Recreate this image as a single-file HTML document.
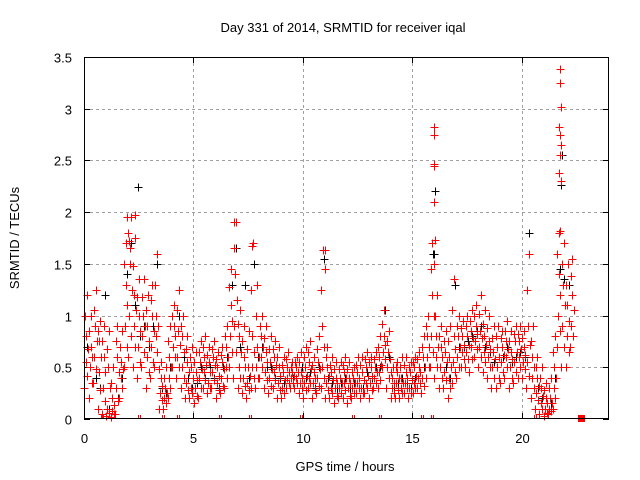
<!DOCTYPE html>
<html><head><meta charset="utf-8"><style>
body{margin:0;background:#fff}
svg{display:block;font-family:"Liberation Sans",sans-serif}
</style></head><body>
<svg id="chart" width="640" height="480" viewBox="0 0 640 480">
<text x="343" y="32" font-size="13" text-anchor="middle">Day 331 of 2014, SRMTID for receiver iqal</text>
<text transform="translate(19,238) rotate(-90)" font-size="13" text-anchor="middle">SRMTID / TECUs</text>
<text x="345" y="471" font-size="13" text-anchor="middle">GPS time / hours</text>
<g id="grid"></g><g id="axes"></g><g id="black"></g><g id="red"></g>
<rect x="84.5" y="57.5" width="524" height="361" fill="none" stroke="#000" stroke-width="1"/>
</svg>
<script>
const times=[0.1,0.3,0.5,0.7,0.9,1.1,1.3,1.5,1.7,1.9,2.1,2.3,2.5,2.7,2.9,3.1,3.3,3.5,3.7,3.9,4.1,4.3,4.5,4.7,4.9,5.1,5.3,5.5,5.7,5.9,6.1,6.3,6.5,6.7,6.9,7.1,7.3,7.5,7.7,7.9,8.1,8.3,8.5,8.7,8.9,9.1,9.3,9.5,9.7,9.9,10.1,10.3,10.5,10.7,10.9,11.1,11.3,11.5,11.7,11.9,12.1,12.3,12.5,12.7,12.9,13.1,13.3,13.5,13.7,13.9,14.1,14.3,14.5,14.7,14.9,15.1,15.3,15.5,15.7,15.9,16.1,16.3,16.5,16.7,16.9,17.1,17.3,17.5,17.7,17.9,18.1,18.3,18.5,18.7,18.9,19.1,19.3,19.5,19.7,19.9,20.1,20.3,20.5,20.7,20.9,21.1,21.3,21.5,21.7,21.9,22.1,22.3];
const redLow=[.3,.2,.35,.1,.05,.03,.02,.05,.2,.5,.6,.5,.4,.5,.3,.4,.5,.1,.1,.2,.5,.4,.3,.2,.2,.15,.2,.3,.25,.3,.2,.25,.3,.5,.4,.3,.25,.2,.3,.3,.4,.3,.25,.3,.2,.2,.3,.3,.3,.25,.2,.3,.2,.25,.3,.2,.2,.15,.2,.2,.15,.2,.25,.2,.25,.2,.3,.3,.5,.3,.2,.2,.2,.25,.2,.25,.3,.25,.4,.5,.4,.3,.3,.2,.35,.4,.5,.5,.45,.6,.5,.45,.4,.3,.3,.35,.4,.3,.35,.4,.4,.3,.2,.1,.05,.03,.05,.1,.7,.5,.5,.7];
const redQ1=[.42,.35,.48,.28,.17,.06,.05,.17,.3,.7,.8,.7,.55,.65,.45,.55,.65,.18,.15,.3,.6,.5,.4,.28,.25,.22,.3,.38,.3,.38,.28,.32,.4,.65,.65,.4,.32,.28,.4,.4,.5,.38,.32,.38,.28,.25,.35,.35,.35,.3,.28,.35,.28,.32,.4,.28,.25,.22,.25,.28,.22,.25,.3,.25,.3,.28,.35,.38,.58,.4,.25,.28,.25,.3,.25,.3,.35,.32,.5,.65,.5,.4,.38,.3,.45,.5,.58,.58,.58,.68,.6,.55,.5,.4,.4,.45,.5,.4,.45,.5,.48,.42,.3,.18,.1,.06,.08,.2,.85,.7,.65,.8];
const redMid1=[.55,.5,.6,.45,.3,.1,.08,.3,.4,.9,1.0,.9,.7,.8,.6,.7,.8,.25,.2,.4,.7,.6,.5,.35,.3,.3,.4,.45,.35,.45,.35,.4,.5,.8,.9,.5,.4,.35,.5,.5,.6,.45,.4,.45,.35,.3,.4,.4,.4,.35,.35,.4,.35,.4,.5,.35,.3,.3,.3,.35,.3,.3,.35,.3,.35,.35,.4,.45,.65,.5,.3,.35,.3,.35,.3,.35,.4,.4,.6,.8,.6,.5,.45,.4,.55,.6,.65,.65,.7,.75,.7,.65,.6,.5,.5,.55,.6,.5,.55,.6,.55,.55,.4,.25,.15,.1,.1,.3,1.0,.9,.8,.9];
const redQ2=[.68,.6,.75,.6,.45,.3,.14,.45,.48,1.1,1.25,1.05,.85,.9,.75,.85,.9,.32,.25,.5,.8,.72,.65,.45,.4,.38,.48,.52,.45,.52,.42,.48,.6,.95,1.15,.65,.5,.42,.65,.6,.7,.55,.48,.52,.42,.38,.45,.42,.45,.4,.42,.48,.4,.48,.7,.42,.38,.35,.35,.4,.35,.35,.4,.38,.42,.42,.45,.52,.72,.58,.35,.4,.35,.4,.38,.42,.45,.5,.7,1.0,.7,.6,.55,.5,.68,.7,.72,.72,.78,.82,.78,.72,.68,.58,.6,.62,.68,.58,.65,.68,.62,.72,.5,.32,.22,.15,.15,.4,1.2,1.1,.95,1.05];
const redMid2=[.8,.7,.9,.75,.6,.5,.2,.6,.55,1.3,1.5,1.2,1.0,1.0,.9,1.0,1.0,.4,.3,.6,.9,.85,.8,.55,.5,.45,.55,.6,.55,.6,.5,.55,.7,1.1,1.4,.8,.6,.5,.8,.7,.8,.65,.55,.6,.5,.45,.5,.45,.5,.45,.5,.55,.45,.55,.9,.5,.45,.4,.4,.45,.4,.4,.45,.45,.5,.5,.5,.6,.8,.65,.4,.45,.4,.45,.45,.5,.5,.6,.8,1.2,.8,.7,.65,.6,.8,.8,.8,.8,.85,.9,.85,.8,.75,.65,.7,.7,.75,.65,.75,.75,.7,.9,.6,.4,.3,.2,.2,.5,1.4,1.3,1.1,1.2];
const redQ3=[1.0,.85,1.05,.85,.75,.68,.35,.75,.7,1.5,1.72,1.48,1.18,1.18,1.05,1.15,1.3,.48,.4,.75,1.0,1.05,.9,.68,.6,.55,.65,.7,.62,.68,.58,.62,.8,1.28,1.65,.92,.75,.68,1.25,1.0,.9,.78,.68,.68,.6,.52,.58,.5,.55,.55,.6,.65,.52,.68,1.25,.6,.52,.48,.48,.52,.48,.45,.52,.52,.58,.55,.58,.7,.92,.75,.45,.5,.5,.52,.5,.55,.58,.7,.9,1.45,1.0,.8,.75,.75,1.05,.9,.88,.9,.95,1.0,1.02,.92,.88,.78,.8,.78,.85,.75,.82,.82,.78,1.25,.75,.5,.4,.28,.3,.65,1.6,1.5,1.3,1.38];
const redHigh=[1.2,1.0,1.25,.95,.9,.85,.5,.9,.85,1.7,1.95,1.75,1.35,1.35,1.2,1.3,1.6,.55,.5,.9,1.1,1.25,1.0,.8,.7,.65,.75,.8,.7,.75,.65,.7,.9,1.45,1.9,1.05,.9,.85,1.7,1.3,1.0,.9,.8,.75,.7,.6,.65,.55,.6,.65,.7,.75,.6,.8,1.63,.7,.6,.55,.55,.6,.55,.5,.6,.6,.65,.6,.65,.8,1.05,.85,.5,.55,.6,.6,.55,.6,.65,.8,1.0,1.7,1.2,.9,.85,.9,1.35,1.0,.95,1.0,1.05,1.1,1.2,1.05,1.0,.9,.9,.85,.95,.85,.9,.9,.85,1.6,.9,.6,.5,.35,.4,.8,1.8,1.7,1.5,1.55];
const blackVals=[.7,.6,.4,.3,1.2,.1,.05,.2,.4,1.4,1.7,1.1,.8,.9,.7,.9,1.5,.3,.25,.5,.8,1.0,.6,.4,.3,.35,.5,.4,.5,.4,.3,.5,.6,1.3,1.65,.7,1.3,.4,1.5,.6,.7,.5,.5,.4,.4,.35,.45,.4,.35,.5,.4,.45,.3,.5,1.55,.4,.35,.3,.35,.4,.3,.35,.4,.3,.45,.4,.5,.5,1.05,.6,.3,.35,.4,.35,.3,.4,.45,.5,.7,1.6,1.2,.6,.5,.4,1.3,.7,.7,.75,.8,.85,.9,.7,.65,.55,.6,.6,.7,.55,.6,.65,.6,1.8,.5,.3,.2,.15,.15,.4,1.45,1.35,1.3,.8];
const spikeRedT=[1.95,2.35,6.85,7.7,11.0,11.0,16.0,16.0,16.0,16.02,16.0,16.05,16.0,21.75,21.75,21.8,21.7,21.75,21.8,21.75,21.7,21.8,21.75,2.0,2.1];
const spikeRedV=[1.95,1.97,1.9,1.67,1.63,1.45,2.82,2.75,2.47,2.45,2.1,1.73,1.5,3.38,3.25,3.02,2.82,2.75,2.65,2.55,2.38,2.3,1.82,1.8,1.65];
const spikeBlackT=[2.45,16.05,21.8,21.8,21.85,16.0];
const spikeBlackV=[2.24,2.2,2.26,3.02,2.55,1.6];
const zeroT=[0.8,2.5,3.6,4.3,6.2,7.6,9.9,12.3,13.55,15.45,15.9,20.6];
const xTicks=[0,5,10,15,20];
const yTicks=[0,0.5,1,1.5,2,2.5,3,3.5];
const yLabels=["0","0.5","1","1.5","2","2.5","3","3.5"];

const NS="http://www.w3.org/2000/svg";
const X0=84,X1=609,Y0=419,Y1=57,XMAX=24,YMAX=3.5;
const sx=t=>X0+(X1-X0)*t/XMAX;
const sy=v=>Y0-(Y0-Y1)*v/YMAX;
function mk(tag,attrs,parent){const e=document.createElementNS(NS,tag);for(const k in attrs)e.setAttribute(k,attrs[k]);parent.appendChild(e);return e;}
const grid=document.getElementById('grid'),axes=document.getElementById('axes');
xTicks.forEach(t=>{
  const x=Math.round(sx(t))+0.5;
  if(t>0){const g=mk('line',{x1:x,x2:x,y1:Y1,y2:Y0,stroke:'#a0a0a0','stroke-dasharray':'3,3'},grid);
  
  }
  const tk=mk('path',{d:`M${x},${Y0}v-6M${x},${Y1}v6`,stroke:'#000'},axes);
  
  
  const lb=mk('text',{x:x,y:443,'font-size':13,'text-anchor':'middle'},axes);lb.textContent=String(t);
  
  
});
yTicks.forEach((v,i)=>{
  const y=Math.round(sy(v))+0.5;
  if(v>0&&v<YMAX){const g=mk('line',{x1:X0,x2:X1,y1:y,y2:y,stroke:'#a0a0a0','stroke-dasharray':'3,3'},grid);
  
  }
  const tk=mk('path',{d:`M${X0},${y}h6M${X1},${y}h-6`,stroke:'#000'},axes);
  
  
  const lb=mk('text',{x:72,y:y+5,'font-size':13,'text-anchor':'end'},axes);lb.textContent=yLabels[i];
  
  
});
function plus(g,t,v,color,name){
  const x=Math.round(sx(t))+0.5,y=Math.round(sy(v))+0.5;
  const p=mk('path',{d:`M${x-4},${y}h8M${x},${y-4}v8`,stroke:color,'stroke-width':1,fill:'none','shape-rendering':'crispEdges'},g);
  
  
}
const gb=document.getElementById('black'),gr=document.getElementById('red');
times.forEach((t,i)=>plus(gb,t+0.05,blackVals[i],'#000','black-point'));
spikeBlackT.forEach((t,i)=>plus(gb,t,spikeBlackV[i],'#000','black-point'));
[redLow,redQ1,redMid1,redQ2,redMid2,redQ3,redHigh].forEach((arr,k)=>{
  const off=[-0.08,0.05,-0.03,0.08,0.0,-0.06,0.03][k];
  times.forEach((t,i)=>plus(gr,t+off,arr[i],'#f00','red-point'));
});
spikeRedT.forEach((t,i)=>plus(gr,t,spikeRedV[i],'#f00','red-point'));
zeroT.forEach(t=>{
  const x=Math.round(sx(t));
  const z=mk('path',{d:`M${x-0.5},${Y0-4}v4M${x+1.5},${Y0-4}v4`,stroke:'#f00'},gr);
  
  
});
const sq=mk('rect',{x:Math.round(sx(22.7))-3,y:Y0-4,width:7,height:7,fill:'#f00'},gr);


</script>
</body></html>
